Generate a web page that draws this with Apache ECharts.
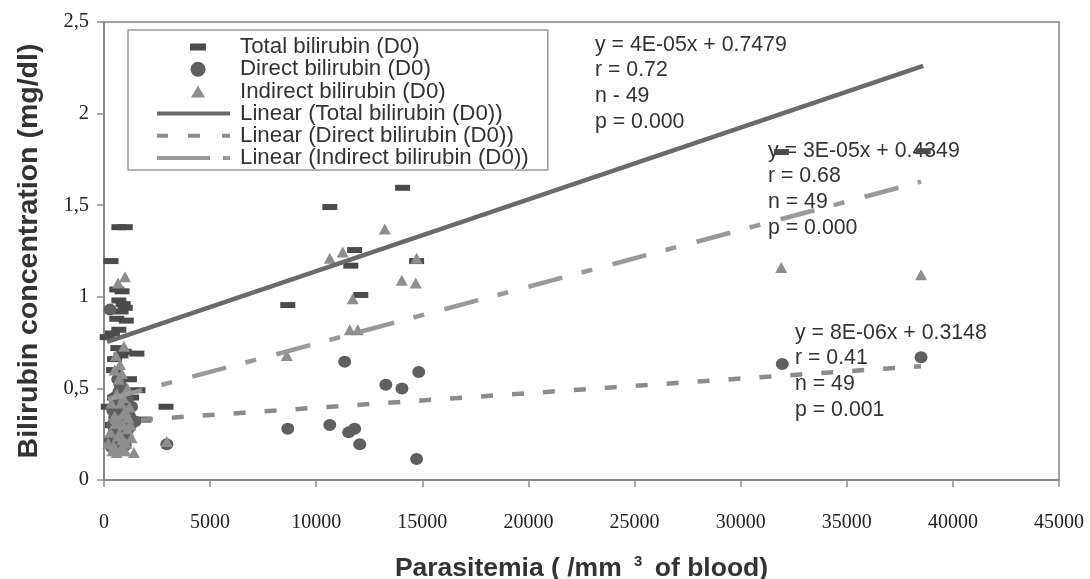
<!DOCTYPE html>
<html>
<head>
<meta charset="utf-8">
<script src="https://cdn.jsdelivr.net/npm/echarts@6/dist/echarts.min.js"></script>
<style>html,body{margin:0;padding:0;background:#fff}#c{width:1090px;height:579px}</style>
</head>
<body>
<div id="c"></div>
<script>
// ---------- data ----------
const totalX = [700,1000,330,600,850,700,900,1000,800,600,1050,700,400,150,950,1550,500,800,650,450,900,1600,200,1880,
  500,600,700,800,900,1000,1100,550,650,750,850,950,1200,1300,400,
  2920,8660,10640,11810,11630,14070,12100,14730,31920,38600];
const totalY = [1.38,1.38,1.195,1.04,1.03,0.98,0.96,0.94,0.92,0.88,0.87,0.82,0.80,0.78,0.70,0.69,0.66,0.68,0.72,0.60,0.49,0.49,0.40,0.33,
  0.45,0.42,0.38,0.36,0.35,0.30,0.32,0.28,0.25,0.27,0.22,0.40,0.55,0.45,0.30,
  0.40,0.955,1.49,1.255,1.17,1.595,1.01,1.195,1.79,1.795];

const directX = [280,1460,500,600,700,800,900,1000,1100,1200,400,450,550,650,750,850,950,1050,1150,300,350,600,700,800,900,1000,1100,1300,1250,500,420,880,980,760,650,1000,
  2960,8660,10640,11530,11810,12050,11340,13280,14040,14830,14730,31960,38500];
const directY = [0.93,0.32,0.45,0.42,0.48,0.40,0.38,0.36,0.44,0.35,0.30,0.25,0.22,0.28,0.20,0.26,0.30,0.24,0.28,0.22,0.18,0.17,0.33,0.29,0.21,0.19,0.23,0.40,0.30,0.34,0.38,0.50,0.46,0.52,0.55,0.26,
  0.195,0.28,0.30,0.26,0.28,0.195,0.645,0.52,0.50,0.59,0.115,0.633,0.67];

const indirectX = [990,660,940,750,1410,400,600,800,1000,500,850,700,1100,900,600,1200,800,1000,500,700,900,1100,300,650,850,1050,450,750,550,950,1300,350,1150,1250,200,560,
  2960,8610,10640,11250,13230,11720,11580,11960,14030,14690,14730,31910,38500];
const indirectY = [1.11,1.075,0.73,0.63,0.15,0.16,0.15,0.17,0.16,0.60,0.58,0.55,0.50,0.45,0.47,0.40,0.42,0.38,0.35,0.33,0.30,0.28,0.26,0.24,0.22,0.20,0.19,0.25,0.31,0.36,0.23,0.42,0.34,0.30,0.20,0.68,
  0.21,0.68,1.21,1.245,1.37,0.99,0.82,0.82,1.09,1.075,1.21,1.16,1.12];

const seriesNames = ['Total bilirubin (D0)','Direct bilirubin (D0)','Indirect bilirubin (D0)'];
const trendNames = ['Linear (Total bilirubin (D0))','Linear (Direct bilirubin (D0))','Linear (Indirect bilirubin (D0))'];
const trendSlope = [3.92e-5, 7.96e-6, 3.1e-5];
const trendIntercept = [0.7479, 0.3148, 0.4349];

const annotTotal = ['y = 4E-05x + 0.7479','r = 0.72','n - 49','p = 0.000'];
const annotIndirect = ['y = 3E-05x + 0.4349','r = 0.68','n = 49','p = 0.000'];
const annotDirect = ['y = 8E-06x + 0.3148','r = 0.41','n = 49','p = 0.001'];

const xMin = 0, xMax = 45000, xStep = 5000;
const yMin = 0, yMax = 2.5, yStep = 0.5;

const xTitle = 'Parasitemia ( /mm ';
const xTitleSup = '3';
const xTitleEnd = ' of blood)';
const yTitle = 'Bilirubin concentration (mg/dl)';

// ---------- build ----------
function pairs(xs, ys){ return xs.map((x,i)=>[x, ys[i]]); }
function trend(xs, k){
  const a = Math.min.apply(null, xs), b = Math.max.apply(null, xs);
  return [[a, trendIntercept[k] + trendSlope[k]*a], [b, trendIntercept[k] + trendSlope[k]*b]];
}
const xsAll = [totalX, directX, indirectX];
const ysAll = [totalY, directY, indirectY];

const markerColors = ['#4b4b4b','#5f5f5f','#8e8e8e'];
const markerSymbols = ['rect','circle','triangle'];
const markerSizes = [[15,6],[13,12],[12,11]];
const lineColors = ['#6a6a6a','#8c8c8c','#999999'];
const lineDash = ['solid',[12,19],[35,20,11,21]];

const legendIcons = [
  'path://M0,0M73,16M33,4.5h16v7h-16z',
  'path://M0,0M73,16M33.5,8a7.5,7.5 0 1 0 15,0a7.5,7.5 0 1 0 -15,0z',
  'path://M0,0M73,16M41,2L48,14H34z',
  'path://M0,0M73,16M0,6h73v4h-73z',
  'path://M0,0M73,16M0,6h11v4h-11zM31,6h12v4h-12zM65,6h8v4h-8z',
  'path://M0,0M73,16M0,6h53v4h-53zM66,6h7v4h-7z'
];

const series = [];
for (let k=0;k<3;k++){
  series.push({
    name: seriesNames[k], type:'scatter', data: pairs(xsAll[k], ysAll[k]),
    symbol: markerSymbols[k], symbolSize: markerSizes[k],
    itemStyle:{color: markerColors[k], opacity:1}, z:2+k*0.1, silent:true
  });
}
for (let k=0;k<3;k++){
  series.push({
    name: trendNames[k], type:'line', data: trend(xsAll[k], k),
    symbol:'none', itemStyle:{color: lineColors[k]},
    lineStyle:{color: lineColors[k], width:4.5, type: lineDash[k], cap:'butt'},
    z:5, silent:true
  });
}

const legendData = seriesNames.concat(trendNames).map((n,i)=>({
  name:n, icon: legendIcons[i],
  itemStyle:{color: i<3 ? markerColors[i] : lineColors[i-3]}
}));

function annot(lines, left, top){
  return {type:'text', left:left, top:top, z:0,
    style:{text: lines.join('\n'), fill:'#333', font:'21.3px "Liberation Sans", Arial, sans-serif', lineHeight:25.7}};
}

const chart = echarts.init(document.getElementById('c'), null, {renderer:'canvas'});
chart.setOption({
  animation:false,
  backgroundColor:'#ffffff',
  grid:{left:104, right:31, top:22, bottom:99, show:true, borderColor:'#a0a0a0', borderWidth:2,
    backgroundColor:'transparent', containLabel:false, outerBoundsMode:'none'},
  xAxis:{
    type:'value', min:xMin, max:xMax, interval:xStep,
    axisLine:{show:true, lineStyle:{color:'#8a8a8a', width:2}},
    axisTick:{show:true, length:7, lineStyle:{color:'#8a8a8a', width:1.5}},
    splitLine:{show:false},
    axisLabel:{margin:33, color:'#222', fontFamily:'"Liberation Serif", serif', fontSize:20,
      formatter: v => String(v)},
    name: xTitle + '{s|' + xTitleSup + '}' + xTitleEnd,
    nameLocation:'middle', nameGap:74,
    nameTextStyle:{fontFamily:'"Liberation Sans", Arial, sans-serif', fontWeight:'bold', fontSize:26.5, color:'#333',
      rich:{s:{fontSize:15, fontWeight:'bold', color:'#333', fontFamily:'"Liberation Sans", Arial, sans-serif', padding:[0,5,15,5]}}}
  },
  yAxis:{
    type:'value', min:yMin, max:yMax, interval:yStep,
    axisLine:{show:true, lineStyle:{color:'#8a8a8a', width:2}},
    axisTick:{show:true, length:7, lineStyle:{color:'#8a8a8a', width:1.5}},
    splitLine:{show:false},
    axisLabel:{margin:15, color:'#222', fontFamily:'"Liberation Serif", serif', fontSize:20.5,
      formatter: v => String(v).replace('.', ',')},
    name: yTitle, nameLocation:'middle', nameGap:60, nameRotate:90,
    nameTextStyle:{fontFamily:'"Liberation Sans", Arial, sans-serif', fontWeight:'bold', fontSize:28.5, color:'#333'}
  },
  legend:{
    orient:'vertical', left:128, top:30, padding:[6,19,1,29],
    itemWidth:73, itemHeight:16, itemGap:0.2,
    borderColor:'#9a9a9a', borderWidth:1.5, backgroundColor:'#ffffff',
    selectedMode:false,
    textStyle:{fontFamily:'"Liberation Sans", Arial, sans-serif', fontSize:22.3, color:'#333', lineHeight:21, padding:[0,0,0,5]},
    data: legendData
  },
  graphic:[
    annot(annotTotal, 595, 32),
    annot(annotIndirect, 768, 138),
    annot(annotDirect, 795, 320)
  ],
  series: series
});
</script>
</body>
</html>
